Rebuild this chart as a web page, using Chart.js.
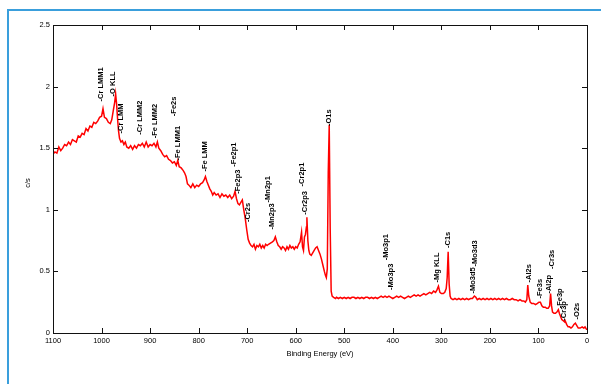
<!DOCTYPE html>
<html>
<head>
<meta charset="utf-8">
<script src="https://cdn.jsdelivr.net/npm/chart.js@4"></script>
<style>
  html, body { margin: 0; padding: 0; background: #fff; }
  #wrap { position: relative; width: 601px; height: 384px; overflow: hidden; background: #fff; }
  #frame { position: absolute; left: 7px; top: 9px; right: 0; bottom: -4px;
           border-top: 2px solid #3a9fdc; border-left: 2px solid #3a9fdc; }
  #c { position: absolute; left: 0; top: 0; }
</style>
</head>
<body>
<div id="wrap"><div id="frame"></div><canvas id="c" width="601" height="384"></canvas></div>
<script>
// XPS survey spectrum: binding energy (eV) against count rate (c/s)
const bindingEnergy = [
  1100,1096,1092,1088,1084,1080,1076,1072,1068,1064,1060,1056,1052,1048,1044,1040,1036,1032,1028,1024,
  1020,1016,1012,1008,1004,1000,997,994,990,986,982,979,976,973,971,969,967,965,963,960,
  957,954,951,948,944,940,936,932,928,924,920,916,912,908,904,900,896,892,888,885,
  882,878,874,870,866,862,858,854,850,846,843,840,836,832,829,826,823,820,816,812,
  808,804,800,796,792,789,786,783,780,777,774,771,768,764,760,756,752,748,744,740,
  736,732,728,725,722,719,716,713,710,707,704,701,698,695,692,689,686,683,680,677,
  674,671,668,665,662,659,656,652,648,645,642,639,636,633,630,627,624,621,618,615,
  612,609,606,603,600,597,594,591,588,586,584,582,580,578,577,575,573,571,568,565,
  562,559,556,553,550,547,544,541,539,537,535,533,531,529,527,525,522,518,
  516,512,508,504,500,496,492,488,484,480,476,472,468,464,460,456,452,448,444,440,
  436,432,428,424,420,416,412,408,404,400,396,392,388,384,380,376,372,368,364,360,
  356,352,348,344,340,336,332,328,324,320,316,312,309,306,303,300,296,293,290,288,
  286,284,282,280,276,272,268,264,260,256,252,248,244,240,236,232,229,226,222,218,
  214,210,206,202,198,194,190,186,182,178,174,170,166,162,158,154,150,146,142,138,
  134,130,127,124,122,120,117,114,110,106,102,99,96,93,90,86,83,80,77,75,
  73,71,68,65,62,59,57,55,52,49,46,45,42,39,36,33,30,27,24,21,
  18,14,10,7,4,1,0
];
const countsPerSec = [
  1.45,1.47,1.46,1.51,1.48,1.50,1.53,1.52,1.55,1.53,1.57,1.56,1.55,1.60,1.59,1.62,1.61,1.66,1.64,1.68,
  1.67,1.71,1.70,1.72,1.75,1.76,1.82,1.75,1.74,1.71,1.70,1.73,1.80,1.87,1.94,1.86,1.74,1.64,1.58,1.55,
  1.56,1.53,1.55,1.51,1.50,1.52,1.49,1.52,1.50,1.53,1.52,1.54,1.51,1.55,1.51,1.53,1.52,1.54,1.51,1.55,
  1.50,1.48,1.45,1.43,1.44,1.41,1.40,1.38,1.39,1.36,1.40,1.35,1.34,1.32,1.30,1.27,1.21,1.20,1.18,1.21,
  1.18,1.20,1.19,1.21,1.22,1.24,1.27,1.23,1.20,1.17,1.15,1.12,1.14,1.12,1.13,1.10,1.13,1.11,1.12,1.10,
  1.12,1.09,1.11,1.15,1.09,1.05,1.04,1.06,1.08,1.00,0.93,0.84,0.76,0.73,0.71,0.70,0.72,0.68,0.71,0.70,
  0.72,0.69,0.71,0.69,0.72,0.71,0.72,0.73,0.74,0.75,0.78,0.74,0.71,0.70,0.68,0.70,0.69,0.67,0.70,0.68,
  0.71,0.69,0.70,0.68,0.70,0.69,0.72,0.74,0.82,0.70,0.67,0.78,0.80,0.86,0.94,0.75,0.67,0.64,0.63,0.65,
  0.67,0.69,0.70,0.67,0.64,0.60,0.55,0.50,0.47,0.45,0.52,1.30,1.69,0.85,0.34,0.30,0.29,0.28,
  0.29,0.28,0.29,0.28,0.29,0.28,0.29,0.28,0.29,0.29,0.28,0.29,0.28,0.29,0.28,0.29,0.29,0.28,0.29,0.28,
  0.29,0.28,0.29,0.30,0.29,0.30,0.29,0.30,0.29,0.28,0.29,0.30,0.29,0.30,0.29,0.28,0.29,0.30,0.29,0.30,
  0.31,0.30,0.31,0.30,0.31,0.32,0.31,0.32,0.33,0.32,0.34,0.33,0.35,0.38,0.33,0.32,0.32,0.33,0.36,0.45,
  0.66,0.40,0.30,0.28,0.27,0.28,0.27,0.28,0.27,0.28,0.27,0.28,0.27,0.28,0.28,0.30,0.29,0.27,0.28,0.27,
  0.28,0.27,0.28,0.27,0.28,0.27,0.28,0.27,0.28,0.27,0.28,0.27,0.28,0.27,0.27,0.28,0.27,0.27,0.26,0.27,
  0.26,0.26,0.25,0.27,0.39,0.30,0.25,0.24,0.24,0.23,0.24,0.25,0.25,0.22,0.21,0.21,0.20,0.20,0.22,0.32,
  0.22,0.17,0.16,0.16,0.17,0.19,0.16,0.14,0.11,0.10,0.09,0.10,0.07,0.05,0.05,0.04,0.05,0.07,0.08,0.06,
  0.04,0.04,0.05,0.04,0.05,0.03,0.03
];

// Axis ticks
const energyTicks = [1100, 1000, 900, 800, 700, 600, 500, 400, 300, 200, 100, 0];
const countTicks = [0, 0.5, 1, 1.5, 2, 2.5];

// Peak assignments: label, energy of the label column (eV), count level where the label starts
const peakLabels  = ['-Cr LMM1','-O KLL','-Cr LMM','-Cr LMM2','-Fe LMM2','-Fe LMM1','-Fe2s','-Fe LMM',
                     '-Fe2p3','-Fe2p1','-Cr2s','-Mn2p1','-Mn2p3','-Cr2p1','-Cr2p3','-O1s',
                     '-Mo3p1','-Mo3p3','-Mg KLL','-C1s','-Mo3d5','-Mo3d3','-Al2s','-Fe3s',
                     '-Al2p','-Cr3s','-Fe3p','-Cr3p','-O2s'];
const peakEnergy  = [1001, 976, 960, 921, 890, 842, 851, 787,
                     719, 727, 698, 657, 649, 587, 581, 532,
                     414, 404, 309, 286, 235, 231, 119, 97,
                     78, 72, 56, 47, 21];
const peakLevel   = [1.88, 1.92, 1.62, 1.61, 1.58, 1.40, 1.76, 1.31,
                     1.13, 1.35, 0.90, 1.06, 0.84, 1.19, 0.96, 1.68,
                     0.59, 0.35, 0.41, 0.69, 0.32, 0.54, 0.41, 0.28,
                     0.32, 0.52, 0.20, 0.10, 0.11];

const spectrum = bindingEnergy.map((e, i) => ({ x: e, y: countsPerSec[i] }));

const FAMILY = '"Liberation Sans", Arial, sans-serif';

// Frame, inward tick marks, axis titles and peak labels
const decorations = {
  id: 'decorations',
  afterDraw(chart) {
    const { ctx, chartArea: a, scales: { x, y } } = chart;
    ctx.save();
    ctx.strokeStyle = '#111';
    ctx.lineWidth = 1;
    ctx.strokeRect(Math.round(a.left) + 0.5, Math.round(a.top) + 0.5,
                   Math.round(a.right - a.left), Math.round(a.bottom - a.top));
    const tl = 5;
    ctx.beginPath();
    energyTicks.forEach(v => {
      const px = Math.round(x.getPixelForValue(v)) + 0.5;
      ctx.moveTo(px, a.bottom); ctx.lineTo(px, a.bottom - tl);
      ctx.moveTo(px, a.top); ctx.lineTo(px, a.top + tl);
    });
    countTicks.forEach(v => {
      const py = Math.round(y.getPixelForValue(v)) + 0.5;
      ctx.moveTo(a.left, py); ctx.lineTo(a.left + tl, py);
      ctx.moveTo(a.right, py); ctx.lineTo(a.right - tl, py);
    });
    ctx.stroke();

    ctx.fillStyle = '#000';
    ctx.font = '7.5px ' + FAMILY;
    ctx.textAlign = 'center';
    ctx.textBaseline = 'middle';
    ctx.fillText('Binding Energy (eV)', (a.left + a.right) / 2, 354);
    ctx.save();
    ctx.translate(28, (a.top + a.bottom) / 2 + 4);
    ctx.rotate(-Math.PI / 2);
    ctx.fillText('c/s', 0, 0);
    ctx.restore();

    ctx.font = 'bold 7.5px ' + FAMILY;
    ctx.textAlign = 'left';
    peakLabels.forEach((t, i) => {
      const px = x.getPixelForValue(peakEnergy[i]);
      const py = y.getPixelForValue(peakLevel[i]);
      ctx.save();
      ctx.translate(px, py);
      ctx.rotate(-Math.PI / 2);
      ctx.fillText(t, 0, 0);
      ctx.restore();
    });
    ctx.restore();
  }
};

new Chart(document.getElementById('c'), {
  type: 'line',
  data: {
    datasets: [{
      data: spectrum,
      borderColor: '#ff0000',
      borderWidth: 1.5,
      pointRadius: 0,
      tension: 0,
      fill: false
    }]
  },
  options: {
    responsive: false,
    animation: false,
    events: [],
    layout: { padding: { left: 0, right: 14, top: 25, bottom: 0 } },
    plugins: { legend: { display: false }, tooltip: { enabled: false } },
    scales: {
      x: {
        type: 'linear',
        reverse: true,
        min: 0,
        max: 1100,
        afterBuildTicks: s => { s.ticks = energyTicks.map(v => ({ value: v })); },
        afterFit: s => { s.height = 51; },
        ticks: {
          autoSkip: false,
          maxRotation: 0,
          padding: 3,
          color: '#000',
          font: { family: FAMILY, size: 7.5 },
          callback: v => String(v)
        },
        grid: { drawOnChartArea: false, drawTicks: false },
        border: { display: false }
      },
      y: {
        type: 'linear',
        min: 0,
        max: 2.5,
        afterBuildTicks: s => { s.ticks = countTicks.map(v => ({ value: v })); },
        afterFit: s => { s.width = 53; },
        ticks: {
          autoSkip: false,
          padding: 3,
          color: '#000',
          font: { family: FAMILY, size: 7.5 },
          callback: v => String(v)
        },
        grid: { drawOnChartArea: false, drawTicks: false },
        border: { display: false }
      }
    }
  },
  plugins: [decorations]
});
</script>
</body>
</html>
